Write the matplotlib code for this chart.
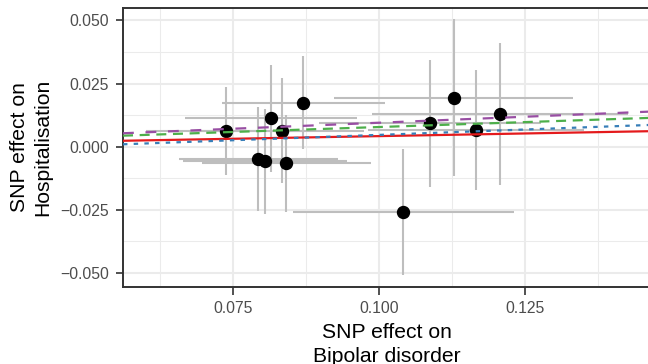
import matplotlib
matplotlib.use("Agg")
import matplotlib.pyplot as plt

plt.rcParams['font.family'] = ['Liberation Sans', 'DejaVu Sans']
plt.rcParams['lines.scale_dashes'] = False

# SNP effects: x = Bipolar disorder, y = Hospitalisation (half widths of the bars)
bd_beta = [0.0737, 0.0815, 0.0833, 0.0870, 0.0793, 0.0804, 0.0841, 0.1041, 0.1087, 0.1127, 0.1207, 0.1166]
bd_err = [0.0136, 0.0147, 0.0140, 0.0139, 0.0136, 0.0140, 0.0145, 0.0189, 0.0190, 0.0204, 0.0219, 0.0185]
hosp_beta = [0.0063, 0.0112, 0.0063, 0.0175, -0.0049, -0.0057, -0.0066, -0.0258, 0.0093, 0.0194, 0.0129, 0.0066]
hosp_err = [0.0175, 0.0211, 0.0208, 0.0183, 0.0205, 0.0208, 0.0192, 0.0250, 0.0252, 0.0310, 0.0280, 0.0236]

# MR estimates drawn as lines
methods = ['Inverse variance weighted', 'MR Egger', 'Weighted median', 'Weighted mode']
intercepts = [0.0, -0.0038, 0.0, 0.0]
slopes = [0.042, 0.0849, 0.078, 0.095]
colors = ['#E41A1C', '#377EB8', '#4DAF4A', '#984EA3']
dashes = [None, (3.2, 4.5), (7.2, 4.8), (7.8, 8.4)]

x_ticks = [0.075, 0.100, 0.125]
x_labels = ['0.075', '0.100', '0.125']
y_ticks = [-0.050, -0.025, 0.000, 0.025, 0.050]
y_labels = ['\u22120.050', '\u22120.025', '0.000', '0.025', '0.050']

fig = plt.figure(figsize=(6.48, 3.64), dpi=100)
ax = fig.add_axes([123 / 648, 1 - 286.7 / 364, (651 - 123) / 648, (286.7 - 7.5) / 364])

grid_col = '#EBEBEB'
for v in [0.0625, 0.0875, 0.1125, 0.1375]:
    ax.axvline(v, color=grid_col, lw=0.75, zorder=0)
for v in [-0.0375, -0.0125, 0.0125, 0.0375]:
    ax.axhline(v, color=grid_col, lw=0.75, zorder=0)
for v in x_ticks:
    ax.axvline(v, color=grid_col, lw=1.5, zorder=0)
for v in y_ticks:
    ax.axhline(v, color=grid_col, lw=1.5, zorder=0)

# error bars, points, then the method lines on top
ax.errorbar(bd_beta, hosp_beta, xerr=bd_err, yerr=hosp_err, fmt='none',
            ecolor='#BEBEBE', elinewidth=1.5, capsize=0, zorder=2)
ax.plot(bd_beta, hosp_beta, 'o', color='black', markersize=8.6, zorder=3)

for name, b0, b1, col, d in zip(methods, intercepts, slopes, colors, dashes):
    line = ax.axline((0, b0), slope=b1, color=col, lw=1.6, label=name, zorder=4)
    if d is not None:
        line.set_dashes(d)

ax.set_xlim(0.05611, 0.1465)
ax.set_ylim(-0.0554, 0.0551)
ax.set_xticks(x_ticks)
ax.set_xticklabels(x_labels)
ax.set_yticks(y_ticks)
ax.set_yticklabels(y_labels)

ax.tick_params(length=5.4, width=1.2, color='#333333', labelcolor='#4D4D4D',
               labelsize=11.3, pad=4.7)
for s in ax.spines.values():
    s.set_color('#333333')
    s.set_linewidth(1.4)

ax.set_xlabel('SNP effect on\nBipolar disorder', fontsize=15.2, linespacing=1.32)
ax.set_ylabel('SNP effect on\nHospitalisation', fontsize=15.2, linespacing=1.32)
ax.xaxis.set_label_coords(0.5, -0.1297)
ax.yaxis.set_label_coords(-0.1335, 0.5)

fig.savefig('out.png', dpi=100)
